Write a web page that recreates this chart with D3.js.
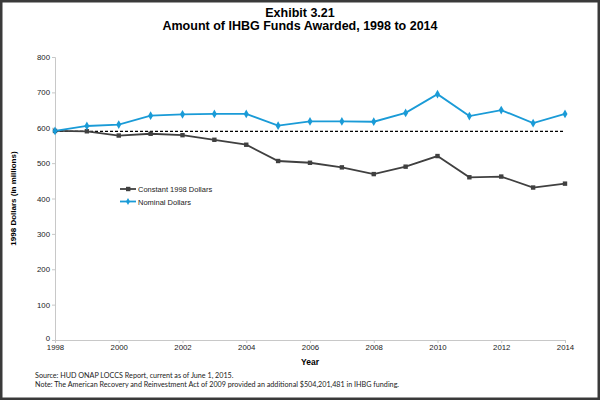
<!DOCTYPE html>
<html>
<head>
<meta charset="utf-8">
<script src="https://cdn.jsdelivr.net/npm/d3@7"></script>
<style>
  body { margin: 0; background: #fff; }
  svg { display: block; font-family: "Liberation Sans", Arial, sans-serif; }
</style>
</head>
<body>
<div id="chart"></div>
<script>
var years = [1998, 1999, 2000, 2001, 2002, 2003, 2004, 2005, 2006, 2007, 2008, 2009, 2010, 2011, 2012, 2013, 2014];
var constantDollars = [591, 590, 578, 583, 579, 566, 552, 506, 501, 488, 469, 490, 520, 460, 462, 431, 442];
var nominalDollars = [591, 605, 609, 634, 638, 639, 639, 606, 618, 618, 617, 642, 695, 633, 650, 613, 639];
var baseline = 590; // dashed reference line (1998 level)
var yTicks = [0, 100, 200, 300, 400, 500, 600, 700, 800];
var xTicks = [1998, 2000, 2002, 2004, 2006, 2008, 2010, 2012, 2014];

var width = 600, height = 400;
var margin = {top: 57, right: 35, bottom: 60, left: 55};

var svg = d3.select('#chart').append('svg')
  .attr('width', width)
  .attr('height', height);

// frame round the picture
svg.append('rect')
  .attr('x', 1.25).attr('y', 1.25)
  .attr('width', width - 2.5).attr('height', height - 2.5)
  .attr('fill', '#fff')
  .attr('stroke', '#3a3a3a')
  .attr('stroke-width', 2.5);

var x = d3.scaleLinear()
  .domain([1998, 2014])
  .range([margin.left, width - margin.right]);

var y = d3.scaleLinear()
  .domain([0, 800])
  .range([height - margin.bottom, margin.top]);

// Title
svg.append('text')
  .attr('x', width / 2).attr('y', 17)
  .attr('text-anchor', 'middle')
  .style('font-size', '12.5px').style('font-weight', 'bold')
  .text('Exhibit 3.21');
svg.append('text')
  .attr('x', width / 2).attr('y', 30)
  .attr('text-anchor', 'middle')
  .style('font-size', '12.5px').style('font-weight', 'bold')
  .text('Amount of IHBG Funds Awarded, 1998 to 2014');

// Axes
var yAxis = svg.append('g')
  .attr('transform', 'translate(' + margin.left + ',0)')
  .call(d3.axisLeft(y).tickValues(yTicks).tickSize(3).tickPadding(2));
var xAxis = svg.append('g')
  .attr('transform', 'translate(0,' + (height - margin.bottom) + ')')
  .call(d3.axisBottom(x).tickValues(xTicks).tickFormat(d3.format('d')).tickSize(3).tickPadding(1.5));

[yAxis, xAxis].forEach(function(a) {
  a.select('.domain').attr('stroke', '#c8c8c8');
  a.selectAll('.tick line').attr('stroke', '#c8c8c8');
  a.selectAll('.tick text')
    .attr('fill', '#222')
    .style('font-size', '7.8px')
    .style('font-family', '"Liberation Sans", Arial, sans-serif');
});
// lift the zero label a touch so it clears the first year label
yAxis.selectAll('.tick text').filter(function(d) { return d === 0; }).attr('y', -2);

// Axis titles
svg.append('text')
  .attr('transform', 'translate(16,' + (y(400)) + ') rotate(-90)')
  .attr('text-anchor', 'middle')
  .style('font-size', '8px').style('font-weight', 'bold')
  .text('1998 Dollars (in millions)');
svg.append('text')
  .attr('x', x(2006)).attr('y', 364.5)
  .attr('text-anchor', 'middle')
  .style('font-size', '8.5px').style('font-weight', 'bold')
  .text('Year');

// Dashed baseline
svg.append('line')
  .attr('x1', x(1998)).attr('x2', x(2014))
  .attr('y1', y(baseline)).attr('y2', y(baseline))
  .attr('stroke', '#000')
  .attr('stroke-width', 1.2)
  .attr('stroke-dasharray', '3,2');

var line = d3.line()
  .x(function(d, i) { return x(years[i]); })
  .y(function(d) { return y(d); });

var grey = '#404040', blue = '#1a9bd7';

// Constant 1998 dollars
svg.append('path')
  .datum(constantDollars)
  .attr('d', line)
  .attr('fill', 'none')
  .attr('stroke', grey)
  .attr('stroke-width', 1.8);
svg.selectAll('.sq')
  .data(constantDollars)
  .enter().append('rect')
  .attr('class', 'sq')
  .attr('x', function(d, i) { return x(years[i]) - 2.2; })
  .attr('y', function(d) { return y(d) - 2.2; })
  .attr('width', 4.4).attr('height', 4.4)
  .attr('fill', grey);

// Nominal dollars
svg.append('path')
  .datum(nominalDollars)
  .attr('d', line)
  .attr('fill', 'none')
  .attr('stroke', blue)
  .attr('stroke-width', 1.8);
svg.selectAll('.dia')
  .data(nominalDollars)
  .enter().append('path')
  .attr('class', 'dia')
  .attr('transform', function(d, i) { return 'translate(' + x(years[i]) + ',' + y(d) + ')'; })
  .attr('d', d3.symbol().type(d3.symbolDiamond).size(22))
  .attr('fill', blue);

// Legend
var legend = svg.append('g').attr('transform', 'translate(120,189)');
legend.append('line').attr('x1', 0).attr('x2', 16).attr('y1', 0).attr('y2', 0)
  .attr('stroke', grey).attr('stroke-width', 1.8);
legend.append('rect').attr('x', 6).attr('y', -2.2).attr('width', 4.4).attr('height', 4.4).attr('fill', grey);
legend.append('text').attr('x', 18).attr('y', 3)
  .style('font-size', '7.5px').attr('fill', '#222')
  .text('Constant 1998 Dollars');
legend.append('line').attr('x1', 0).attr('x2', 16).attr('y1', 12.5).attr('y2', 12.5)
  .attr('stroke', blue).attr('stroke-width', 1.8);
legend.append('path').attr('transform', 'translate(8,12.5)')
  .attr('d', d3.symbol().type(d3.symbolDiamond).size(14)).attr('fill', blue);
legend.append('text').attr('x', 18).attr('y', 15.5)
  .style('font-size', '7.5px').attr('fill', '#222')
  .text('Nominal Dollars');

// Source notes
var notes = svg.append('g')
  .style('font-family', 'Lato, "Open Sans", sans-serif')
  .style('font-size', '7.2px')
  .attr('fill', '#222');
notes.append('text').attr('x', 35).attr('y', 378)
  .text('Source: HUD ONAP LOCCS Report, current as of June 1, 2015.');
notes.append('text').attr('x', 35).attr('y', 387)
  .text('Note: The American Recovery and Reinvestment Act of 2009 provided an additional $504,201,481  in IHBG funding.');
</script>
</body>
</html>
